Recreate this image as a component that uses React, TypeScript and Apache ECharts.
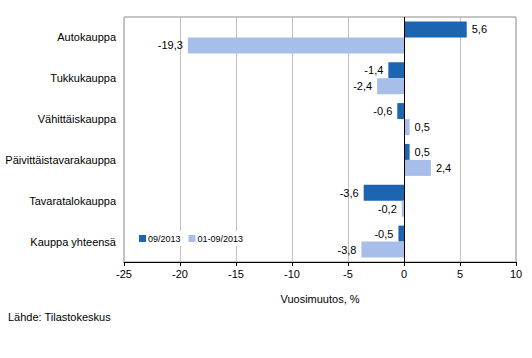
import React, { useEffect, useRef } from "react";
import * as echarts from "echarts";

const categories = [
  "Autokauppa",
  "Tukkukauppa",
  "Vähittäiskauppa",
  "Päivittäistavarakauppa",
  "Tavaratalokauppa",
  "Kauppa yhteensä",
];
const seriesNames = ["09/2013", "01-09/2013"];
const monthValues = [5.6, -1.4, -0.6, 0.5, -3.6, -0.5];
const ytdValues = [-19.3, -2.4, 0.5, 2.4, -0.2, -3.8];
const xTicks = { min: -25, max: 10, interval: 5 };

const FONT = "Arial, 'Liberation Sans', sans-serif";
const fmt = (v: number) => String(v).replace(".", ",");

function mkData(vals: number[]) {
  return vals.map((v) => ({
    value: v,
    label: { position: v < 0 ? "left" : "right" },
  }));
}

export default function App() {
  const ref = useRef<HTMLDivElement>(null);
  useEffect(() => {
    if (!ref.current) return;
    const chart = echarts.init(ref.current, undefined, { renderer: "svg" });
    const labelCfg = {
      show: true,
      distance: 5,
      fontSize: 11,
      fontFamily: FONT,
      color: "#000",
      formatter: (p: any) => fmt(p.value),
    };
    chart.setOption({
      animation: false,
      textStyle: { fontFamily: FONT },
      grid: {
        left: 124,
        right: 16,
        top: 17,
        bottom: 96,
        show: true,
        borderColor: "#8a8a8a",
        borderWidth: 1,
        containLabel: false,
      },
      legend: {
        left: 136,
        top: 231,
        itemWidth: 7,
        itemHeight: 7,
        itemGap: 8,
        padding: [3, 3],
        backgroundColor: "#fff",
        icon: "rect",
        textStyle: { fontSize: 9, color: "#000", fontFamily: FONT, padding: [0, 0, 0, -3] },
        data: seriesNames,
      },
      xAxis: {
        type: "value",
        min: xTicks.min,
        max: xTicks.max,
        interval: xTicks.interval,
        name: "Vuosimuutos, %",
        nameLocation: "middle",
        nameGap: 31,
        nameTextStyle: { fontSize: 11, color: "#000", fontFamily: FONT },
        axisLine: { show: true, lineStyle: { color: "#000", width: 1 } },
        axisTick: { show: true, length: 4, lineStyle: { color: "#000" } },
        axisLabel: { fontSize: 11, color: "#000", margin: 6, fontFamily: FONT },
        splitLine: { show: true, lineStyle: { color: "#c0c0c0", width: 1 } },
      },
      yAxis: {
        type: "category",
        data: categories,
        inverse: true,
        axisLine: { show: false, onZero: false },
        axisTick: { show: false },
        axisLabel: { fontSize: 11, color: "#000", margin: 8, fontFamily: FONT },
        splitLine: { show: false },
      },
      series: [
        {
          name: seriesNames[0],
          type: "bar",
          barWidth: 16,
          barGap: "0%",
          itemStyle: { color: "#1c66b1" },
          label: labelCfg,
          data: mkData(monthValues),
          markLine: {
            silent: true,
            symbol: "none",
            label: { show: false },
            lineStyle: { color: "#000", width: 1, type: "solid" },
            data: [{ xAxis: 0 }],
          },
        },
        {
          name: seriesNames[1],
          type: "bar",
          barWidth: 16,
          barGap: "0%",
          itemStyle: { color: "#a7bdea" },
          label: labelCfg,
          data: mkData(ytdValues),
        },
      ],
      graphic: [
        {
          type: "text",
          left: 8,
          top: 311,
          style: { text: "Lähde: Tilastokeskus", fontSize: 11, fill: "#000", fontFamily: FONT },
        },
      ],
    });
    return () => chart.dispose();
  }, []);
  return <div ref={ref} style={{ width: 532, height: 358, position: "absolute", left: 0, top: 0 }} />;
}
